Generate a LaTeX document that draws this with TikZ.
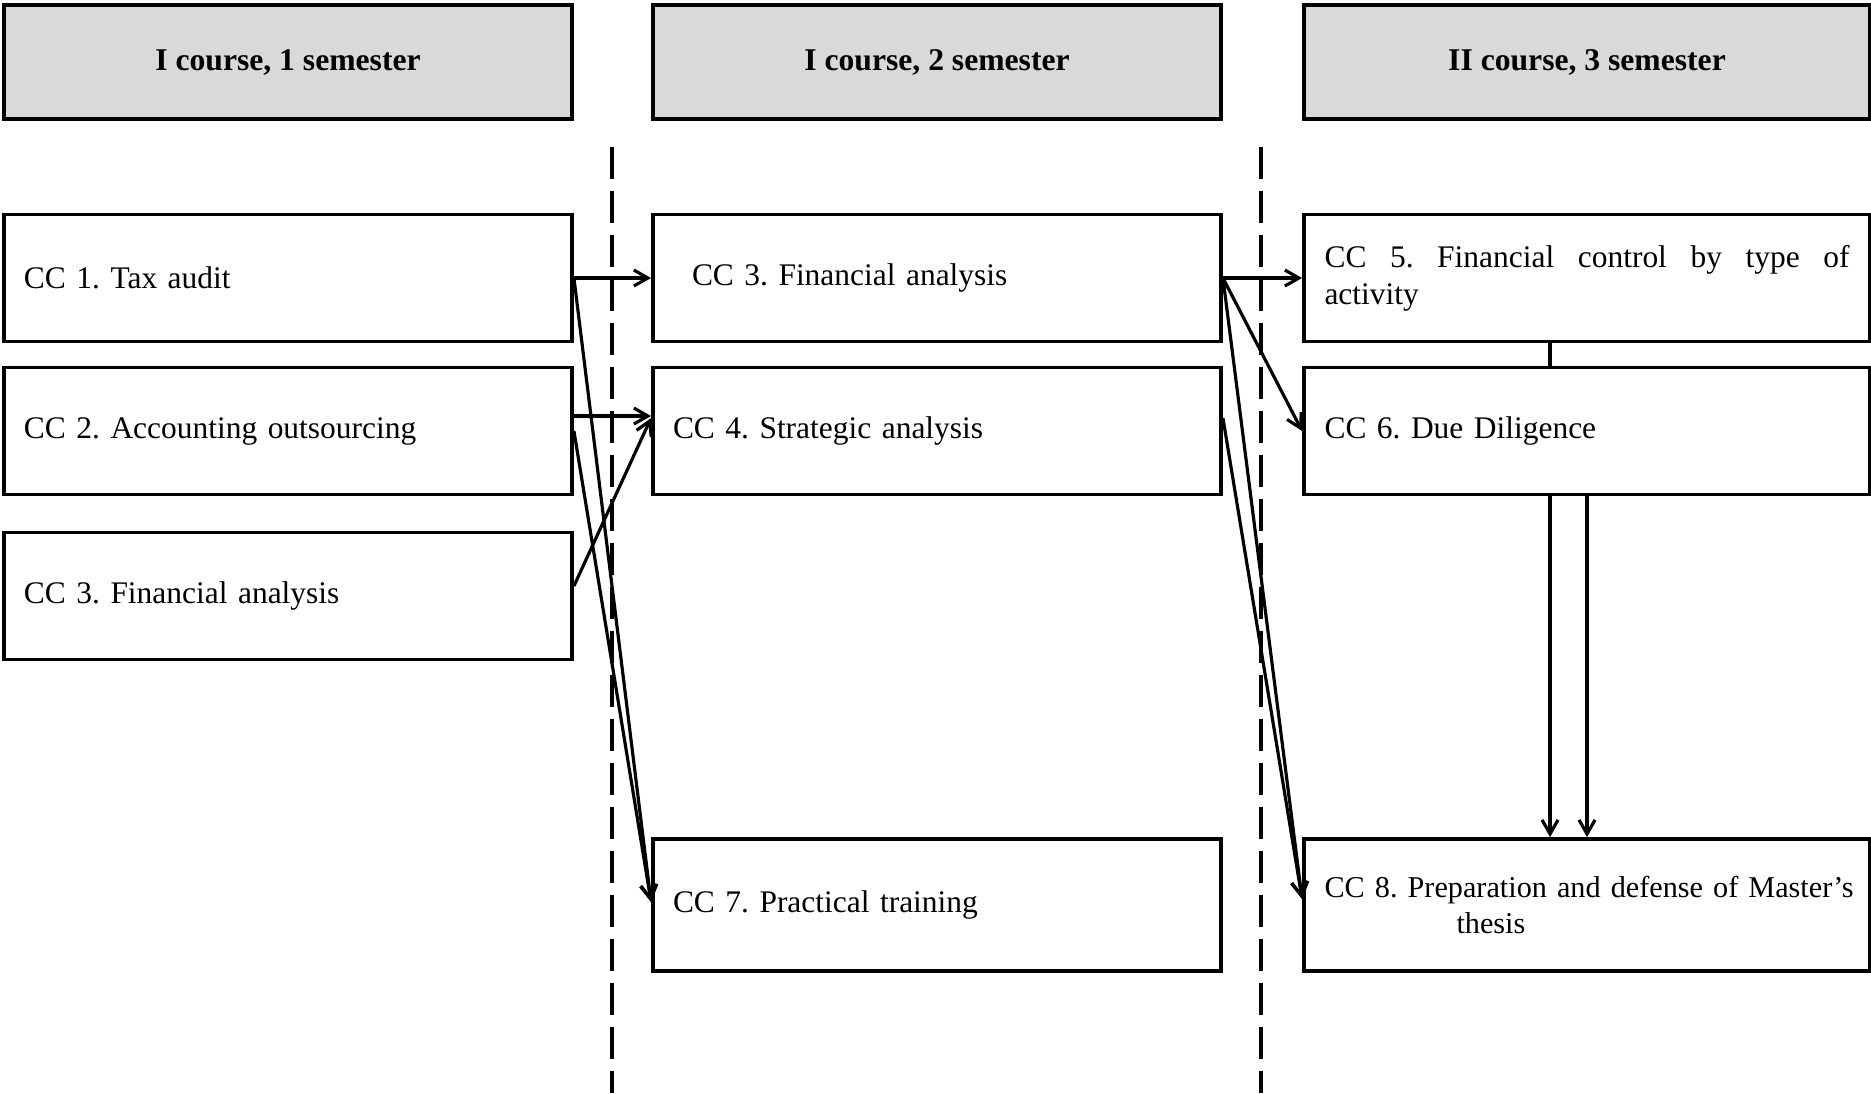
\documentclass[tikz,border=0pt]{standalone}
\usepackage{fontspec}
\setmainfont{Liberation Serif}
\usetikzlibrary{arrows.meta}
\frenchspacing
\tikzset{
	font=\fontsize{8.95}{10.5}\selectfont,
	>={Straight Barb[length=1.4mm,width=1.6mm]},
	head/.style={draw, line width=1.1pt, fill=black!15, minimum width=5.68cm,
		minimum height=1.14cm, font=\fontsize{9}{10.5}\selectfont\bfseries},
	course/.style={draw, line width=1.1pt, minimum width=5.68cm, minimum height=1.27cm,
		text width=5.28cm, inner xsep=0.2cm, align=left},
	link/.style={->, line width=0.9pt},
	divider/.style={line width=0.9pt, dash pattern=on 0.32cm off 0.12cm}
}

\begin{document}
\begin{tikzpicture}  % TikZ drawing environment

\useasboundingbox (0,0) rectangle (18.71,-10.93);

% semester headers
\node[head] (h1) at (2.88,-0.62) {I course, 1 semester};
\node[head] (h2) at (9.37,-0.62) {I course, 2 semester};
\node[head, minimum width=5.66cm] (h3) at (15.87,-0.62) {II course, 3 semester};

% dividers
\draw[divider] (6.12,-1.47) -- (6.12,-10.93);
\draw[divider] (12.61,-1.47) -- (12.61,-10.93);

% 1 semester
\node[course] (c1) at (2.88,-2.78) {CC 1. Tax audit};
\node[course] (c2) at (2.88,-4.31) {CC 2. Accounting outsourcing};
\node[course] (c3a) at (2.88,-5.96) {CC 3. Financial analysis};

% 2 semester
\node[course] (c3b) at (9.37,-2.78) {\hspace*{1.9mm}CC 3. Financial analysis};
\node[course] (c4) at (9.37,-4.31) {CC 4. Strategic analysis};
\node[course, minimum height=1.32cm] (c7) at (9.37,-9.05) {CC 7. Practical training};

% 3 semester
\node[course, minimum width=5.66cm, text width=5.25cm, align=justify] (c5) at (15.87,-2.78)
	{CC 5. Financial control by type of\linebreak activity};
\node[course, minimum width=5.66cm, text width=5.25cm] (c6) at (15.87,-4.31) {CC 6. Due Diligence};
\node[course, minimum width=5.66cm, text width=5.25cm, minimum height=1.32cm,
	font=\fontsize{8.6}{10.5}\selectfont] (c8) at (15.87,-9.05)
	{\mbox{CC 8. Preparation and defense of Master’s}\\\hspace*{1.32cm}thesis};

% links to 2 semester
\draw[link] (c1.east) -- (c3b.west);
\draw[link] (c1.east) -- ([yshift=0.3mm]c7.west);
\draw[link] ([yshift=1.5mm]c2.east) -- ([yshift=1.5mm]c4.west);
\draw[link] (c2.east) -- ([yshift=0.3mm]c7.west);
\draw[link] ([yshift=1mm]c3a.east) -- ([yshift=1.3mm]c4.west);

% links to 3 semester
\draw[link] (c3b.east) -- (c5.west);
\draw[link] (c3b.east) -- (c6.west);
\draw[link] (c3b.east) -- ([yshift=0.6mm]c8.west);
\draw[link] ([yshift=1.3mm]c4.east) -- ([yshift=0.6mm]c8.west);

% inside 3 semester
\draw[line width=0.9pt] ([xshift=-3.7mm]c5.south) -- ([xshift=-3.7mm]c6.north);
\draw[link] ([xshift=-3.7mm]c6.south) -- ([xshift=-3.7mm]c8.north);
\draw[link] (c6.south) -- (c8.north);

\end{tikzpicture}
\end{document}
